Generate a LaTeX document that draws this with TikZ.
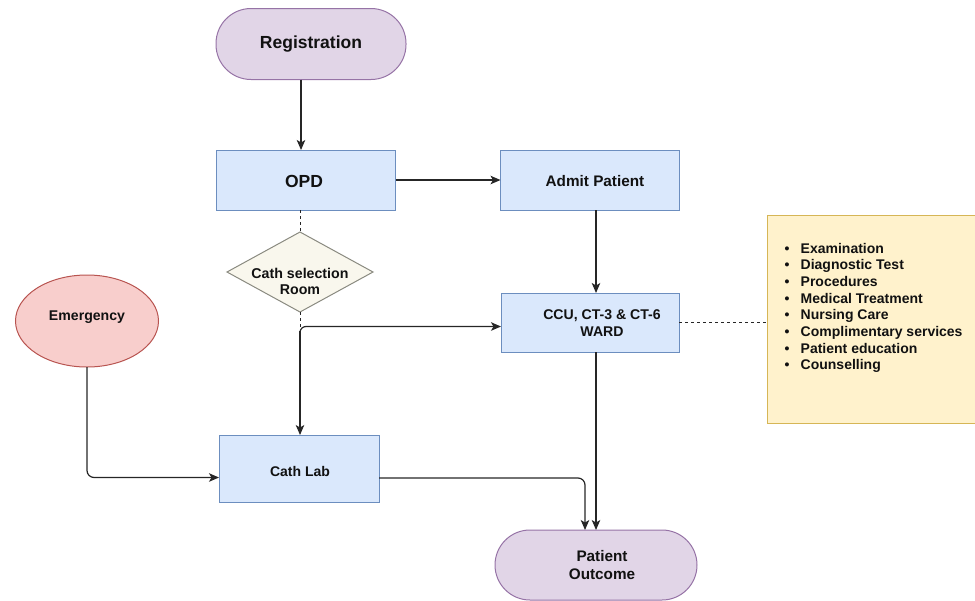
\documentclass[tikz,border=0pt]{standalone}
\usepackage{fontspec}
\setmainfont{Liberation Sans}
\usetikzlibrary{shapes.geometric,arrows.meta}
\definecolor{purfill}{HTML}{E1D5E7}
\definecolor{purline}{HTML}{9673A6}
\definecolor{bluefill}{HTML}{DAE8FC}
\definecolor{blueline}{HTML}{6C8EBF}
\definecolor{redfill}{HTML}{F8CECC}
\definecolor{redline}{HTML}{B85450}
\definecolor{beigefill}{HTML}{F9F7ED}
\definecolor{beigeline}{HTML}{8A8A80}
\definecolor{yelfill}{HTML}{FFF2CC}
\definecolor{yelline}{HTML}{D6B656}
\definecolor{txt}{HTML}{111111}
\tikzset{
  x=1pt, y=-1pt,
  base/.style={inner sep=0pt, outer sep=0pt, line width=1pt, text=txt, font=\bfseries},
  terminal/.style={base, draw=purline, fill=purfill, rounded corners=35pt},
  procbox/.style={base, draw=blueline, fill=bluefill},
  label/.style={inner sep=0pt, outer sep=0pt, text=txt, font=\bfseries, align=center},
  arr/.style={line width=1.2pt, draw=black!85, -{Stealth[length=10pt,width=8.5pt,inset=2.5pt]}},
  dashline/.style={line width=1pt, draw=black!85, dash pattern=on 3pt off 3pt},
}
\begin{document}
\begin{tikzpicture}
\useasboundingbox (0,0) rectangle (975,600);
% nodes
\node[terminal, minimum width=190pt, minimum height=71pt] (reg) at (311,44) {};
\node[label, font=\bfseries\fontsize{17.5}{20}\selectfont] (regt) at (311,44) {Registration};
\node[procbox, minimum width=179pt, minimum height=60pt] (opd) at (306,180) {};
\node[label, font=\bfseries\fontsize{17.5}{20}\selectfont] (opdt) at (304,181) {OPD};
\node[procbox, minimum width=179pt, minimum height=60pt] (admit) at (590,180) {};
\node[label, font=\bfseries\fontsize{15.3}{18}\selectfont] (admitt) at (595,181) {Admit Patient};
\node[base, diamond, draw=beigeline, fill=beigefill, minimum width=146pt, minimum height=80pt] (dia) at (300,272) {};
\node[label, font=\bfseries\fontsize{14.2}{16}\selectfont] (diat) at (300,281) {Cath selection\\Room};
\node[base, ellipse, draw=redline, fill=redfill, minimum width=143pt, minimum height=92pt] (emer) at (87,321) {};
\node[label, font=\bfseries\fontsize{14.1}{16}\selectfont] (emert) at (87,317) {Emergency};
\node[procbox, minimum width=178pt, minimum height=59pt] (ccu) at (590,322.5) {};
\node[label, font=\bfseries\fontsize{14.1}{16.7}\selectfont] (ccut) at (602,323) {CCU, CT-3 \& CT-6\\WARD};
\node[procbox, minimum width=160pt, minimum height=67pt] (cath) at (299,468.5) {};
\node[label, font=\bfseries\fontsize{14}{16}\selectfont] (catht) at (300,471) {Cath Lab};
\node[terminal, minimum width=202pt, minimum height=70pt] (out) at (596,565) {};
\node[label, font=\bfseries\fontsize{15.3}{18}\selectfont] (outt) at (602,565) {Patient\\Outcome};
\node[base, draw=yelline, fill=yelfill, minimum width=209pt, minimum height=208pt] (note) at (871.5,319) {};
\node[inner sep=0pt, outer sep=0pt, anchor=base west, text=txt, font=\bfseries\fontsize{14}{16.67}\selectfont] (notet) at (784.5,253)
{\begin{tabular}[t]{@{}l@{}}
\makebox[16.2pt][l]{•}Examination\\
\makebox[16.2pt][l]{•}Diagnostic Test\\
\makebox[16.2pt][l]{•}Procedures\\
\makebox[16.2pt][l]{•}Medical Treatment\\
\makebox[16.2pt][l]{•}Nursing Care\\
\makebox[16.2pt][l]{•}Complimentary services\\
\makebox[16.2pt][l]{•}Patient education\\
\makebox[16.2pt][l]{•}Counselling
\end{tabular}};
% connectors
\draw[arr] (reg.south -| 301,0) -- (opd.north -| 301,0);
\draw[arr] (opd.east) -- (admit.west);
\draw[arr] (admit.south -| 596,0) -- (ccu.north -| 596,0);
\draw[dashline] (opd.south -| dia.north) -- (dia.north);
\coordinate (split) at (300,331);
\draw[dashline] (dia.south) -- (split);
\draw[arr] (split) -- (cath.north -| split);
\draw[arr, rounded corners=6pt] (split) -- (300,326.5) -- (ccu.west |- 0,326.5);
\draw[arr, rounded corners=7pt] (emer.south) |- (cath.west |- 0,477.5);
\draw[arr, rounded corners=7pt] (cath.east |- 0,478) -| (out.north -| 585,0);
\draw[arr] (ccu.south -| 596,0) -- (out.north -| 596,0);
\draw[dashline] (ccu.east |- 0,322) -- (note.west |- 0,322);
\end{tikzpicture}
\end{document}
